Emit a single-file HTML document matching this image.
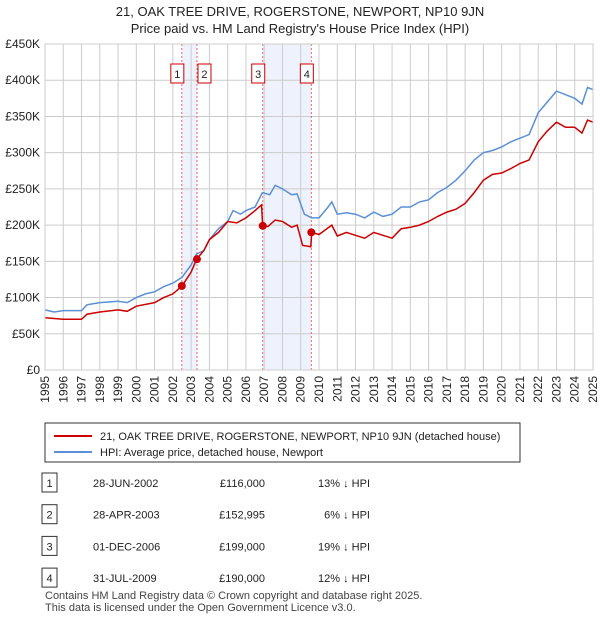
<!DOCTYPE html>
<html><head><meta charset="utf-8"><style>
body{margin:0;background:#fff;font-family:"Liberation Sans","DejaVu Sans",sans-serif;}
svg{display:block}
</style></head><body>
<svg width="600" height="620" viewBox="0 0 600 620">
<text x="300" y="16" text-anchor="middle" font-size="13" fill="#222">21, OAK TREE DRIVE, ROGERSTONE, NEWPORT, NP10 9JN</text>
<text x="300" y="33" text-anchor="middle" font-size="13" fill="#222">Price paid vs. HM Land Registry's House Price Index (HPI)</text>
<g id="plot"></g>
<g id="legend">
<rect x="45" y="423" width="475" height="39" fill="#fff" stroke="#333"/>
<line x1="54" y1="436" x2="92" y2="436" stroke="#cc0000" stroke-width="2"/>
<text x="100" y="440" font-size="11" fill="#222">21, OAK TREE DRIVE, ROGERSTONE, NEWPORT, NP10 9JN (detached house)</text>
<line x1="54" y1="452" x2="92" y2="452" stroke="#5b8fd6" stroke-width="2"/>
<text x="100" y="456" font-size="11" fill="#222">HPI: Average price, detached house, Newport</text>
</g>
<g id="table"></g>
<text x="45" y="599" font-size="11" fill="#444">Contains HM Land Registry data © Crown copyright and database right 2025.</text>
<text x="45" y="611" font-size="11" fill="#444">This data is licensed under the Open Government Licence v3.0.</text>
</svg>
<script>
const hpiYears=[1995,1995.5,1996,1997,1997.3,1998,1999,1999.5,2000,2000.5,2001,2001.5,2002,2002.5,2003,2003.3,2003.7,2004,2004.5,2005,2005.3,2005.7,2006,2006.5,2006.9,2007.3,2007.6,2008,2008.5,2008.8,2009.2,2009.6,2010,2010.5,2010.7,2011,2011.5,2012,2012.5,2013,2013.5,2014,2014.5,2015,2015.5,2016,2016.5,2017,2017.5,2018,2018.5,2019,2019.5,2020,2020.5,2021,2021.5,2022,2022.5,2023,2023.5,2024,2024.4,2024.7,2025];
const hpiValues=[83,80,82,82,90,93,95,93,100,105,108,115,120,128,145,160,165,180,195,205,220,215,220,225,245,242,255,250,242,243,215,210,210,225,232,215,217,215,210,218,212,215,225,225,232,235,245,252,262,275,290,300,303,308,315,320,325,355,370,385,380,375,367,390,387];
const priceYears=[1995,1996,1997,1997.3,1998,1999,1999.5,2000,2001,2001.5,2002,2002.5,2003,2003.3,2003.7,2004,2004.5,2005,2005.5,2006,2006.5,2006.85,2006.92,2007.2,2007.6,2008,2008.5,2008.8,2009.1,2009.55,2009.6,2010,2010.7,2011,2011.5,2012,2012.5,2013,2013.5,2014,2014.5,2015,2015.5,2016,2016.5,2017,2017.5,2018,2018.5,2019,2019.5,2020,2020.5,2021,2021.5,2022,2022.5,2023,2023.5,2024,2024.4,2024.7,2025];
const priceValues=[72,70,70,77,80,83,81,88,93,100,105,116,135,153,165,180,190,205,203,210,220,228,199,198,207,205,197,200,172,170,190,187,200,185,190,186,182,190,186,182,195,197,200,205,212,218,222,230,245,262,270,272,278,285,290,315,330,342,335,335,327,345,342];
const saleLabels=["1","2","3","4"];
const saleYears=[2002.49,2003.32,2006.92,2009.58];
const saleValues=[116,152.995,199,190];
const saleDates=["28-JUN-2002","28-APR-2003","01-DEC-2006","31-JUL-2009"];
const salePrices=["£116,000","£152,995","£199,000","£190,000"];
const saleDiffs=["13% ↓ HPI","6% ↓ HPI","19% ↓ HPI","12% ↓ HPI"];
const yTicks=[0,50,100,150,200,250,300,350,400,450];
const yTickLabels=["£0","£50K","£100K","£150K","£200K","£250K","£300K","£350K","£400K","£450K"];
const xTicks=[1995,1996,1997,1998,1999,2000,2001,2002,2003,2004,2005,2006,2007,2008,2009,2010,2011,2012,2013,2014,2015,2016,2017,2018,2019,2020,2021,2022,2023,2024,2025];

const X0=45,X1=593,Y0=370,Y1=44;
const xs=y=>X0+(y-1995)/30*(X1-X0);
const ys=v=>Y0-v/450*(Y0-Y1);
const NS="http://www.w3.org/2000/svg";
function mk(tag,attrs,parent,text){const e=document.createElementNS(NS,tag);for(const k in attrs)e.setAttribute(k,attrs[k]);if(text!==undefined)e.textContent=text;parent.appendChild(e);return e;}
const plot=document.getElementById('plot');
// shading
const shades=[[0,1],[2,3]];
shades.forEach((p,i)=>{const r=mk('rect',{x:xs(saleYears[p[0]]),y:Y1,width:xs(saleYears[p[1]])-xs(saleYears[p[0]]),height:Y0-Y1,fill:'#eef2fc'},plot);

});
xTicks.forEach(t=>{const l=mk('line',{x1:xs(t),x2:xs(t),y1:Y1,y2:Y0,stroke:'#ccc'},plot);


const tx=mk('text',{x:0,y:0,transform:`translate(${xs(t)+4},${Y0+6}) rotate(-90)`,'text-anchor':'end','font-size':12,fill:'#222'},plot,String(t));

});
yTicks.forEach((t,i)=>{const l=mk('line',{x1:X0,x2:X1,y1:ys(t),y2:ys(t),stroke:'#ccc'},plot);


const tx=mk('text',{x:X0-5,y:ys(t)+4,'text-anchor':'end','font-size':12,fill:'#222'},plot,yTickLabels[i]);

});
saleYears.forEach((y,i)=>{const l=mk('line',{x1:xs(y),x2:xs(y),y1:Y1,y2:Y0,stroke:'#e66','stroke-dasharray':'2,2'},plot);

});
function path(xa,va,color,name){const d=xa.map((x,i)=>(i?'L':'M')+xs(x).toFixed(1)+','+ys(va[i]).toFixed(1)).join('');
const p=mk('path',{d:d,fill:'none',stroke:color,'stroke-width':1.5},plot);

}
path(hpiYears,hpiValues,'#5b8fd6','hpi-line');
path(priceYears,priceValues,'#cc0000','price-line');
saleYears.forEach((y,i)=>{const c=mk('circle',{cx:xs(y),cy:ys(saleValues[i]),r:4,fill:'#cc0000'},plot);


const bx=[xs(y)-11,xs(y)+1,xs(y)-11,xs(y)-11][i];
const r=mk('rect',{x:bx,y:64,width:13,height:19,fill:'#fff',stroke:'#cc0000'},plot);


mk('text',{x:bx+6.5,y:78,'text-anchor':'middle','font-size':11,fill:'#222'},plot,saleLabels[i]);});
mk('rect',{x:X0,y:Y1,width:X1-X0,height:Y0-Y1,fill:'none',stroke:'#ccc'},plot);
const tb=document.getElementById('table');
saleLabels.forEach((s,i)=>{const y=483+i*31.7;
const r=mk('rect',{x:42,y:y-10,width:15,height:19,fill:'#fff',stroke:'#333'},tb);


mk('text',{x:49.5,y:y+4,'text-anchor':'middle','font-size':11,fill:'#222'},tb,s);
const a=mk('text',{x:93,y:y+4,'font-size':11,fill:'#222'},tb,saleDates[i]);


const b=mk('text',{x:265,y:y+4,'text-anchor':'end','font-size':11,fill:'#222'},tb,salePrices[i]);


const c=mk('text',{x:370,y:y+4,'text-anchor':'end','font-size':11,fill:'#222'},tb,saleDiffs[i]);

});
</script>
</body></html>
